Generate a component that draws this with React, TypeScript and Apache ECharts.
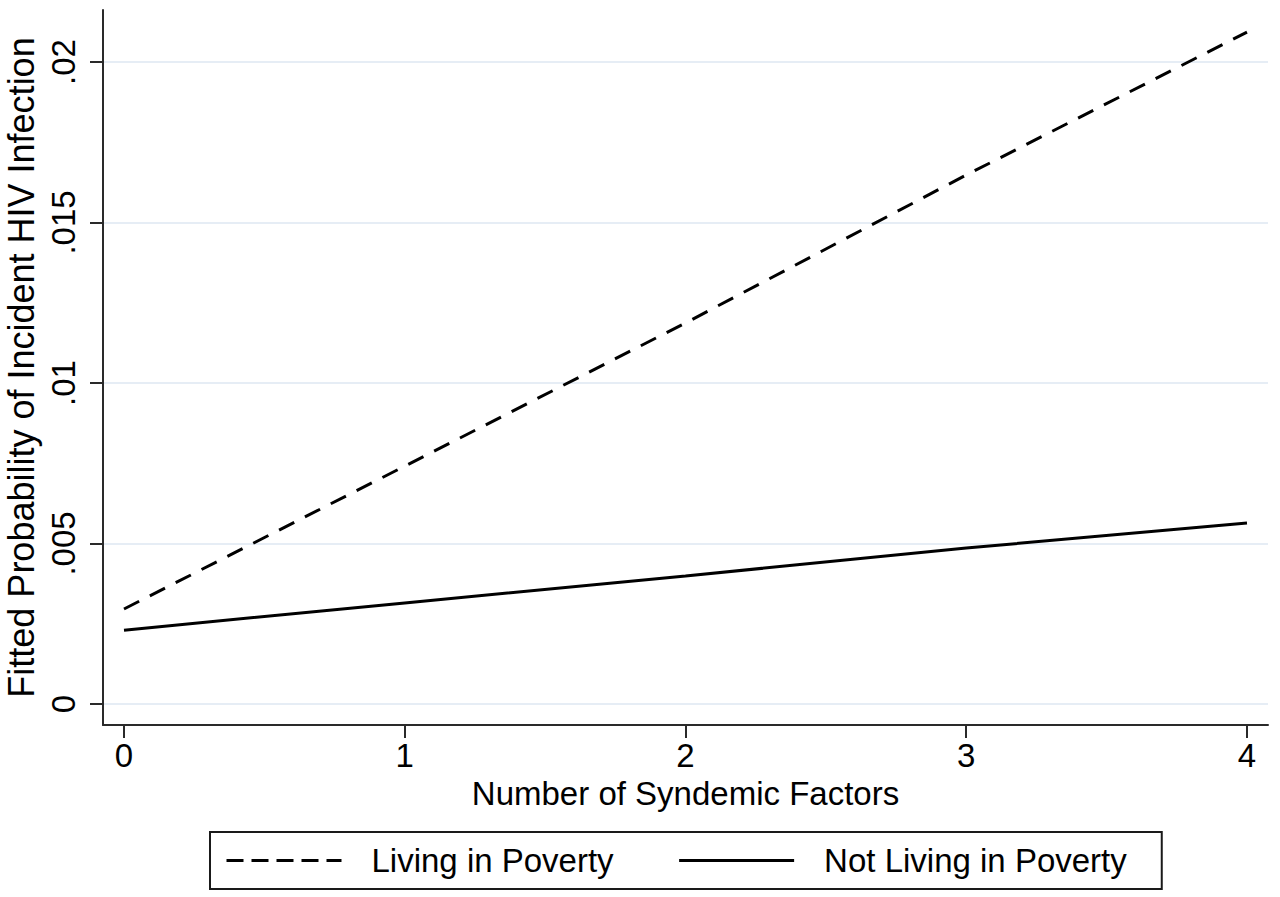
import React, { useEffect, useRef } from "react";
import * as echarts from "echarts";

const xValues = [0, 1, 2, 3, 4];
const livingInPoverty = [0.00296, 0.00741, 0.01187, 0.01648, 0.02093];
const notLivingInPoverty = [0.0023, 0.00315, 0.00399, 0.00486, 0.00564];
const xTicks = [0, 1, 2, 3, 4];
const yTicks = [0, 0.005, 0.01, 0.015, 0.02];
const seriesNames = ["Living in Poverty", "Not Living in Poverty"];
const xTitle = "Number of Syndemic Factors";
const yTitle = "Fitted Probability of Incident HIV Infection";

const FONT = "'Liberation Sans', Arial, Helvetica, sans-serif";

function fmtY(v: number): string {
  if (v === 0) return "0";
  return String(v).replace(/^0/, "");
}

export default function App() {
  const ref = useRef<HTMLDivElement>(null);
  useEffect(() => {
    if (!ref.current) return;
    const chart = echarts.init(ref.current, undefined, { renderer: "svg" });
    chart.setOption({
      animation: false,
      backgroundColor: "#ffffff",
      textStyle: { fontFamily: FONT, color: "#000" },
      grid: { left: 103, right: 12, top: 10, bottom: 172, containLabel: false, outerBoundsMode: "none" },
      xAxis: {
        type: "value",
        min: -0.0748,
        max: 4.0748,
        name: xTitle,
        nameLocation: "middle",
        nameGap: 50,
        nameTextStyle: { fontSize: 33, color: "#000", fontFamily: FONT },
        axisLine: { show: true, onZero: false, lineStyle: { color: "#2a2a2a", width: 2 } },
        axisTick: { show: true, length: 13, customValues: xTicks, lineStyle: { color: "#2a2a2a", width: 2 } },
        axisLabel: { customValues: xTicks, fontSize: 33, color: "#000", margin: 14, fontFamily: FONT, formatter: (v: number) => String(v) },
        splitLine: { show: false },
      },
      yAxis: {
        type: "value",
        min: -0.000654,
        max: 0.02162,
        name: yTitle,
        nameLocation: "middle",
        nameGap: 57,
        nameTextStyle: { fontSize: 36, color: "#000", fontFamily: FONT },
        axisLine: { show: true, onZero: false, lineStyle: { color: "#2a2a2a", width: 2 } },
        axisTick: { show: true, length: 13, customValues: yTicks, lineStyle: { color: "#2a2a2a", width: 2 } },
        axisLabel: { customValues: yTicks, rotate: 90, fontSize: 33, color: "#000", margin: 23, fontFamily: FONT, formatter: (v: number) => fmtY(v) },
        splitLine: { show: true, lineStyle: { color: "#e6edf5", width: 2 } },
      },
      legend: {
        left: 210,
        top: 832,
        orient: "horizontal",
        padding: [12, 35, 12, 15],
        itemGap: 64,
        itemWidth: 115,
        itemHeight: 20,
        borderColor: "#1a1a1a",
        borderWidth: 2,
        textStyle: { fontSize: 33, color: "#000", fontFamily: FONT, padding: [0, 0, 0, 25] },
        data: [
          { name: seriesNames[0], itemStyle: { opacity: 0 }, lineStyle: { type: [17, 8], width: 3, color: "#000" } },
          { name: seriesNames[1], itemStyle: { opacity: 0 }, lineStyle: { type: "solid", width: 3, color: "#000" } },
        ],
      },
      series: [
        {
          name: seriesNames[0],
          type: "line",
          data: xValues.map((x, i) => [x, livingInPoverty[i]]),
          symbol: "none",
          lineStyle: { color: "#000", width: 3, type: [17, 12] },
          itemStyle: { color: "#000" },
        },
        {
          name: seriesNames[1],
          type: "line",
          data: xValues.map((x, i) => [x, notLivingInPoverty[i]]),
          symbol: "none",
          lineStyle: { color: "#000", width: 3, type: "solid" },
          itemStyle: { color: "#000" },
        },
      ],
    });
    return () => chart.dispose();
  }, []);
  return <div ref={ref} style={{ position: "fixed", left: 0, top: 0, width: 1280, height: 897 }} />;
}
